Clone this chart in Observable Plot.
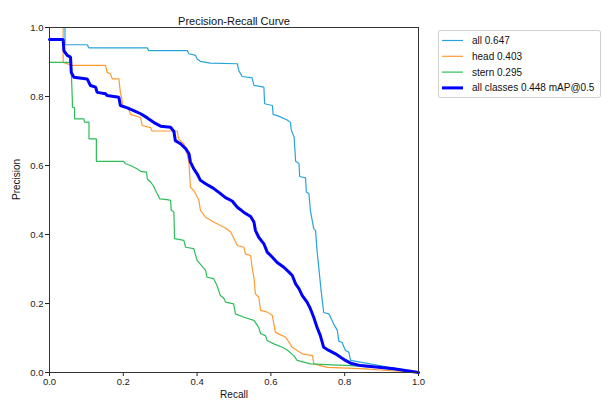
<!DOCTYPE html>
<html>
<head>
<meta charset="utf-8">
<script src="https://cdn.jsdelivr.net/npm/d3@7"></script>
<script src="https://cdn.jsdelivr.net/npm/@observablehq/plot@0.6"></script>
<style>
  html, body { margin: 0; padding: 0; background: #fff; }
  svg { display: block; }
</style>
</head>
<body>
<div id="chart"></div>
<script>
// ---- Data ----
const seriesNames = ["all 0.647", "head 0.403", "stern 0.295", "all classes 0.448 mAP@0.5"];
const seriesColors = ["#29a3db", "#ff9a33", "#2dbd5a", "#0000ff"];
const seriesWidths = [1.2, 1.2, 1.2, 3];

const recallAll = [0, 0.042, 0.042, 0.102, 0.107, 0.265, 0.269, 0.373, 0.378, 0.396, 0.400, 0.409, 0.436, 0.509, 0.513, 0.522, 0.549, 0.554, 0.581, 0.583, 0.604, 0.606, 0.621, 0.644, 0.653, 0.655, 0.663, 0.667, 0.676, 0.678, 0.694, 0.696, 0.703, 0.707, 0.716, 0.721, 0.725, 0.730, 0.736, 0.743, 0.757, 0.770, 0.780, 0.784, 0.793, 0.802, 0.811, 0.816, 1.0];
const precisionAll = [1.0, 1.0, 0.950, 0.950, 0.941, 0.941, 0.933, 0.933, 0.924, 0.919, 0.909, 0.902, 0.897, 0.895, 0.875, 0.858, 0.854, 0.832, 0.827, 0.779, 0.774, 0.748, 0.743, 0.732, 0.725, 0.704, 0.682, 0.612, 0.606, 0.568, 0.564, 0.523, 0.518, 0.470, 0.417, 0.412, 0.354, 0.301, 0.238, 0.174, 0.170, 0.141, 0.122, 0.091, 0.087, 0.064, 0.059, 0.035, 0.0];

const recallHead = [0, 0.037, 0.037, 0.062, 0.152, 0.156, 0.165, 0.170, 0.188, 0.192, 0.197, 0.197, 0.214, 0.220, 0.247, 0.251, 0.274, 0.278, 0.346, 0.350, 0.364, 0.373, 0.378, 0.382, 0.391, 0.405, 0.409, 0.423, 0.445, 0.463, 0.477, 0.491, 0.499, 0.509, 0.527, 0.531, 0.545, 0.549, 0.554, 0.558, 0.567, 0.572, 0.590, 0.604, 0.612, 0.621, 0.640, 0.649, 0.658, 0.671, 0.685, 0.713, 0.716, 0.753, 0.843, 1.0];
const precisionHead = [1.0, 1.0, 0.899, 0.890, 0.890, 0.870, 0.866, 0.851, 0.851, 0.812, 0.788, 0.774, 0.764, 0.748, 0.739, 0.716, 0.710, 0.700, 0.700, 0.677, 0.663, 0.634, 0.605, 0.537, 0.528, 0.499, 0.470, 0.450, 0.436, 0.426, 0.419, 0.407, 0.390, 0.368, 0.363, 0.344, 0.339, 0.305, 0.276, 0.228, 0.218, 0.180, 0.175, 0.165, 0.117, 0.112, 0.102, 0.088, 0.073, 0.064, 0.054, 0.049, 0.025, 0.015, 0.011, 0.0];

const recallStern = [0, 0.058, 0.062, 0.062, 0.068, 0.068, 0.093, 0.095, 0.107, 0.107, 0.127, 0.127, 0.201, 0.206, 0.220, 0.238, 0.247, 0.263, 0.265, 0.274, 0.281, 0.287, 0.293, 0.299, 0.319, 0.328, 0.330, 0.337, 0.339, 0.364, 0.369, 0.391, 0.400, 0.423, 0.427, 0.445, 0.454, 0.463, 0.472, 0.477, 0.499, 0.504, 0.527, 0.554, 0.567, 0.572, 0.585, 0.590, 0.608, 0.631, 0.644, 0.662, 0.671, 0.707, 0.753, 0.816, 0.888, 1.0];
const precisionStern = [0.899, 0.899, 0.788, 0.769, 0.767, 0.735, 0.735, 0.726, 0.726, 0.677, 0.677, 0.612, 0.612, 0.605, 0.600, 0.590, 0.583, 0.581, 0.561, 0.552, 0.542, 0.528, 0.516, 0.503, 0.501, 0.499, 0.470, 0.465, 0.388, 0.383, 0.363, 0.359, 0.325, 0.296, 0.276, 0.272, 0.252, 0.223, 0.216, 0.204, 0.199, 0.170, 0.160, 0.151, 0.131, 0.113, 0.107, 0.093, 0.083, 0.073, 0.065, 0.049, 0.035, 0.025, 0.023, 0.020, 0.015, 0.0];

const recallMean = [0, 0.037, 0.039, 0.048, 0.057, 0.059, 0.066, 0.102, 0.111, 0.125, 0.129, 0.152, 0.156, 0.188, 0.192, 0.211, 0.228, 0.247, 0.265, 0.287, 0.301, 0.328, 0.337, 0.341, 0.355, 0.369, 0.378, 0.382, 0.391, 0.400, 0.409, 0.423, 0.441, 0.459, 0.477, 0.495, 0.509, 0.527, 0.545, 0.554, 0.558, 0.567, 0.581, 0.590, 0.604, 0.617, 0.635, 0.649, 0.658, 0.667, 0.676, 0.685, 0.698, 0.707, 0.716, 0.725, 0.734, 0.743, 0.757, 0.775, 0.789, 0.802, 0.816, 0.843, 0.933, 1.0];
const precisionMean = [0.965, 0.965, 0.933, 0.919, 0.914, 0.870, 0.856, 0.851, 0.832, 0.827, 0.812, 0.808, 0.803, 0.798, 0.774, 0.767, 0.759, 0.750, 0.738, 0.722, 0.714, 0.711, 0.699, 0.672, 0.663, 0.649, 0.634, 0.610, 0.590, 0.576, 0.557, 0.547, 0.536, 0.522, 0.507, 0.497, 0.479, 0.464, 0.452, 0.436, 0.412, 0.392, 0.373, 0.349, 0.334, 0.319, 0.305, 0.291, 0.281, 0.257, 0.243, 0.223, 0.204, 0.185, 0.160, 0.131, 0.107, 0.073, 0.064, 0.054, 0.044, 0.035, 0.027, 0.020, 0.011, 0.0];

const tickValues = [0, 0.2, 0.4, 0.6, 0.8, 1.0];
const titleText = "Precision-Recall Curve";
const xLabel = "Recall";
const yLabel = "Precision";

// ---- Build tidy rows ----
const recalls = [recallAll, recallHead, recallStern, recallMean];
const precisions = [precisionAll, precisionHead, precisionStern, precisionMean];
const rowsFor = (i) => recalls[i].map((r, j) => ({series: seriesNames[i], recall: r, precision: precisions[i][j]}));

const font = "'Liberation Sans', Arial, sans-serif";

const lineMarks = seriesNames.map((name, i) =>
  Plot.line(rowsFor(i), {x: "recall", y: "precision", stroke: seriesColors[i], strokeWidth: seriesWidths[i], strokeLinejoin: "miter", curve: "linear"})
);

const chart = Plot.plot({
  width: 603,
  height: 402,
  marginLeft: 49,
  marginRight: 185,
  marginTop: 27,
  marginBottom: 30,
  style: {fontFamily: font, fontSize: "9.5px", background: "#fff", color: "#222"},
  x: {domain: [0, 1], ticks: tickValues, tickFormat: d3.format(".1f"), tickSize: 4, tickPadding: 2, label: null},
  y: {domain: [0, 1], ticks: tickValues, tickFormat: d3.format(".1f"), tickSize: 4, tickPadding: 2, label: null},
  marks: [
    ...lineMarks,
    Plot.frame({stroke: "#333", strokeWidth: 1}),
    Plot.text([titleText], {frameAnchor: "top", dy: -10, fontSize: 11, fill: "#111"}),
    Plot.text([xLabel], {frameAnchor: "bottom", dy: 25, fontSize: 10, fill: "#111"}),
    Plot.text([yLabel], {frameAnchor: "left", dx: -33, rotate: -90, fontSize: 10, fill: "#111"})
  ]
});

document.getElementById("chart").appendChild(chart);

// ---- Legend (outside the frame, on the right) ----
const svg = d3.select(chart);
const lg = svg.append("g").attr("font-family", font).attr("font-size", 10).attr("text-anchor", "start");
lg.append("rect").attr("x", 438.5).attr("y", 30.5).attr("width", 162).attr("height", 67)
  .attr("rx", 2).attr("fill", "#fff").attr("stroke", "#d0d0d0");
seriesNames.forEach((name, i) => {
  const y = 40.5 + i * 15.8;
  lg.append("line").attr("x1", 442).attr("x2", 463).attr("y1", y).attr("y2", y)
    .attr("stroke", seriesColors[i]).attr("stroke-width", seriesWidths[i]);
  lg.append("text").attr("x", 472).attr("y", y).attr("dy", "0.35em")
    .attr("text-anchor", "start").attr("fill", "#111").text(name);
});
</script>
</body>
</html>
